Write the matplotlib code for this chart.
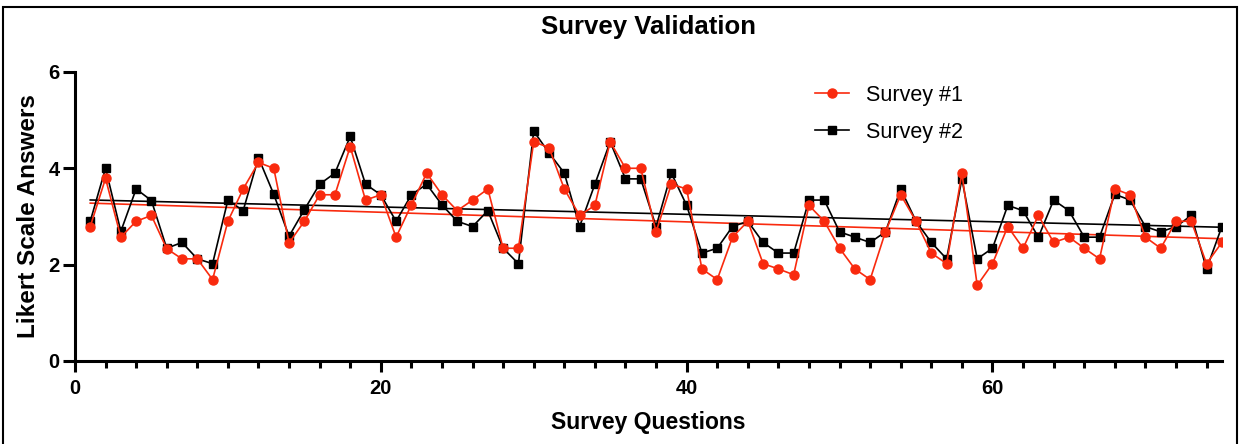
import matplotlib.pyplot as plt
import numpy as np
from matplotlib.patches import Rectangle
from matplotlib.ticker import MultipleLocator

plt.rcParams['font.family'] = ['Liberation Sans', 'DejaVu Sans']

# question numbers 1..75
questions = np.arange(1, 76)

survey1 = [2.79, 3.79, 2.57, 2.90, 3.02, 2.33, 2.12, 2.12, 1.69, 2.90,
           3.57, 4.12, 4.00, 2.45, 2.90, 3.45, 3.45, 4.45, 3.34, 3.45,
           2.57, 3.24, 3.90, 3.45, 3.12, 3.34, 3.57, 2.34, 2.34, 4.55,
           4.43, 3.57, 3.02, 3.23, 4.55, 4.00, 4.00, 2.68, 3.67, 3.57,
           1.91, 1.69, 2.57, 2.90, 2.02, 1.91, 1.79, 3.23, 2.90, 2.34,
           1.91, 1.69, 2.68, 3.45, 2.90, 2.24, 2.02, 3.90, 1.57, 2.02,
           2.79, 2.34, 3.02, 2.46, 2.57, 2.34, 2.12, 3.57, 3.45, 2.57,
           2.34, 2.90, 2.90, 2.02, 2.46]

survey2 = [2.90, 4.00, 2.69, 3.57, 3.33, 2.34, 2.46, 2.12, 2.02, 3.34,
           3.12, 4.22, 3.46, 2.59, 3.14, 3.67, 3.90, 4.66, 3.67, 3.45,
           2.90, 3.45, 3.67, 3.24, 2.90, 2.79, 3.12, 2.34, 2.02, 4.77,
           4.32, 3.90, 2.79, 3.67, 4.55, 3.78, 3.78, 2.79, 3.90, 3.23,
           2.24, 2.34, 2.79, 2.90, 2.46, 2.24, 2.24, 3.34, 3.34, 2.68,
           2.57, 2.46, 2.68, 3.57, 2.90, 2.46, 2.12, 3.78, 2.12, 2.34,
           3.23, 3.12, 2.57, 3.34, 3.12, 2.57, 2.57, 3.46, 3.34, 2.79,
           2.68, 2.79, 3.02, 1.91, 2.79]

red = '#F92A0E'

fig = plt.figure(figsize=(12.43, 4.44), dpi=100)
ax = fig.add_axes([0.0603, 0.187, 0.9227, 0.651])

# linear trends
fit1 = np.polyfit(questions, survey1, 1)
fit2 = np.polyfit(questions, survey2, 1)
ax.plot(questions, np.polyval(fit2, questions), color='black', lw=1.2, zorder=2)
ax.plot(questions, np.polyval(fit1, questions), color=red, lw=1.2, zorder=2)

l2, = ax.plot(questions, survey2, color='black', lw=1.2, marker='s', ms=6,
              label='Survey #2', zorder=3)
l1, = ax.plot(questions, survey1, color=red, lw=1.2, marker='o', ms=6.5,
              label='Survey #1', zorder=4)

ax.set_xlim(0, 75)
ax.set_ylim(0, 6)
ax.set_yticks([0, 2, 4, 6])
ax.xaxis.set_major_locator(MultipleLocator(20))
ax.xaxis.set_minor_locator(MultipleLocator(2))

for s in ['top', 'right']:
    ax.spines[s].set_visible(False)
for s in ['left', 'bottom']:
    ax.spines[s].set_linewidth(2.2)

ax.tick_params(axis='both', which='major', direction='out', width=2.2,
               labelsize=14.5)
ax.tick_params(axis='y', which='major', length=9, pad=2)
ax.tick_params(axis='x', which='major', length=8, pad=5)
ax.tick_params(axis='x', which='minor', direction='out', width=2.2, length=5)
for lab in ax.get_xticklabels() + ax.get_yticklabels():
    lab.set_fontweight('bold')

ax.set_title('Survey Validation', fontsize=18.5, fontweight='bold', pad=27)
ax.set_xlabel('Survey Questions', fontsize=16.5, fontweight='bold', labelpad=9)
ax.set_ylabel('Likert Scale Answers', fontsize=17.5, fontweight='bold', labelpad=6)

ax.legend(handles=[l1, l2], loc='upper left', bbox_to_anchor=(0.656, 0.809),
          bbox_transform=fig.transFigure, frameon=False, fontsize=15.5,
          handlelength=1.55, handletextpad=0.8, labelspacing=0.75,
          borderpad=0, borderaxespad=0)

# outer frame
fig.patches.append(Rectangle((0.0025, -0.05), 0.993, 1.034, transform=fig.transFigure,
                             fill=False, edgecolor='black', lw=1.5))

plt.savefig('out.png', dpi=100)
